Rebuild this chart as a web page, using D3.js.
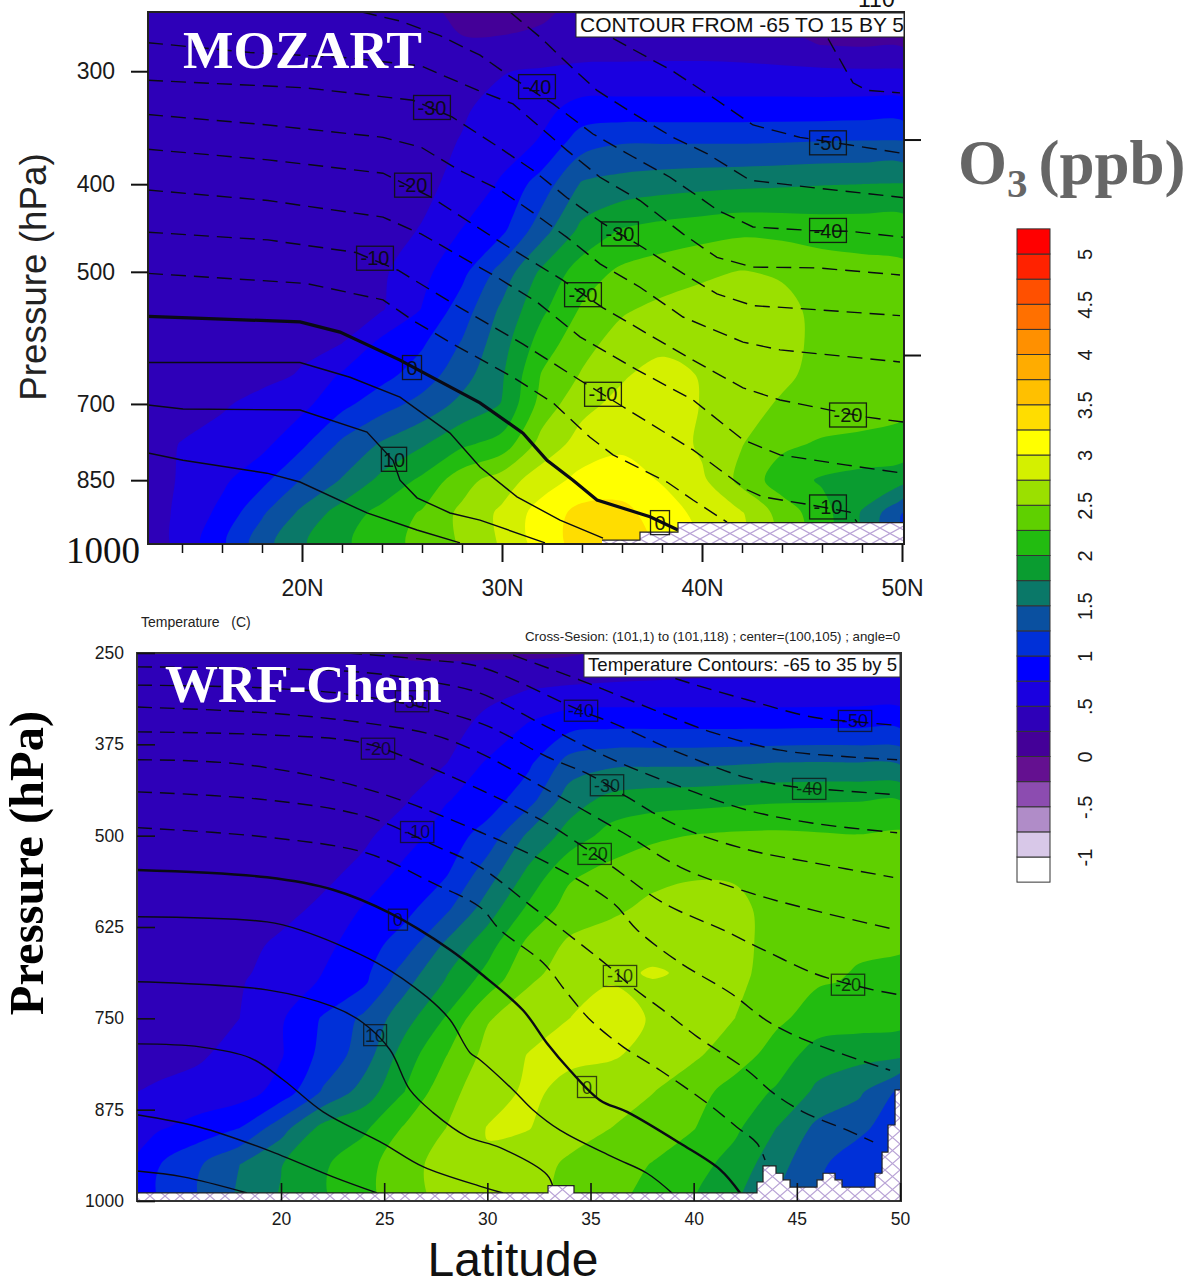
<!DOCTYPE html>
<html lang="en">
<head>
<meta charset="UTF-8">
<title>O3 cross sections, MOZART and WRF-Chem</title>
<script src="https://d3js.org/d3.v7.min.js"></script>
<style>
    html, body { margin: 0; padding: 0; background: #fff; }
    svg { display: block; font-family: "Liberation Sans", Arial, sans-serif; }
    .serif { font-family: "Liberation Serif", "Times New Roman", serif; font-weight: bold; }
    .axis path.domain { display: none; }
    .axis line { stroke: #111; }
</style>
</head>
<body>
<svg id="chart" width="1190" height="1283"></svg>
<script>
// colour levels, ppb
const o3Levels = [-1, -0.75, -0.5, -0.25, 0, 0.25, 0.5, 0.75, 1, 1.25, 1.5, 1.75, 2, 2.25, 2.5, 2.75, 3, 3.25, 3.5, 3.75, 4, 4.25, 4.5, 4.75, 5];
const o3Colors = ["#ffffff", "#d8c8e8", "#b08cc8", "#8c4cb0", "#641090", "#440098", "#2e00b8", "#1a00e0", "#0000ff", "#0030d8", "#0a50a0", "#0a7868", "#0a9c30", "#22bc10", "#5fd000", "#9be000", "#d4f000", "#ffff00", "#ffdd00", "#ffc000", "#ffac00", "#ff9000", "#ff7000", "#ff5000", "#ff2200", "#ff0000"];
const legendTicks = [-1, -0.5, 0, 0.5, 1, 1.5, 2, 2.5, 3, 3.5, 4, 4.5, 5];

// MOZART O3 on lat / pressure nodes
const mozartLats = [12.3, 14, 16, 18, 20, 22, 24, 26, 28, 30, 32, 34, 36, 38, 40, 42, 44, 46, 48, 50];
const mozartLevels = [258, 280, 300, 330, 360, 400, 450, 500, 550, 600, 650, 700, 775, 850, 925, 1000];
const mozartO3 = [
    [.38,.38,.38,.38,.38,.37,.35,.3,.2,.2,.22,.3,.35,.38,.38,.37,.2,.15,.15,.15],
    [.38,.38,.38,.38,.38,.38,.36,.3,.27,.27,.3,.38,.41,.42,.42,.4,.33,.24,.22,.22],
    [.39,.39,.39,.39,.39,.39,.39,.41,.44,.49,.53,.56,.55,.55,.55,.55,.55,.54,.53,.53],
    [.4,.4,.4,.4,.4,.4,.41,.43,.48,.56,.68,.84,.85,.85,.85,.85,.85,.85,.86,.86],
    [.4,.4,.4,.4,.4,.41,.41,.44,.51,.62,.78,1.15,1.24,1.24,1.24,1.24,1.25,1.27,1.28,1.28],
    [.4,.4,.4,.4,.4,.4,.41,.46,.55,.79,1.12,1.53,1.6,1.65,1.68,1.7,1.72,1.74,1.75,1.76],
    [.4,.4,.4,.4,.4,.41,.44,.51,.76,.95,1.4,1.82,2.02,2.1,2.15,2.2,2.18,2.15,2.15,2.15],
    [.4,.4,.4,.4,.4,.42,.46,.68,.93,1.35,1.8,2.12,2.3,2.38,2.46,2.51,2.47,2.38,2.33,2.3],
    [.4,.4,.4,.4,.41,.44,.48,.76,1.12,1.55,1.95,2.28,2.47,2.56,2.6,2.62,2.58,2.42,2.35,2.32],
    [.4,.4,.4,.41,.45,.5,.82,.97,1.27,1.65,2.12,2.42,2.6,2.68,2.7,2.68,2.6,2.42,2.3,2.28],
    [.4,.4,.4,.43,.52,.78,.92,1.12,1.4,1.72,2.27,2.52,2.72,2.85,2.73,2.63,2.55,2.42,2.32,2.28],
    [.4,.4,.47,.58,.68,.93,1.15,1.33,1.57,1.76,2.35,2.68,2.82,2.87,2.74,2.6,2.47,2.4,2.35,2.3],
    [.42,.51,.6,.68,.95,1.3,1.53,1.72,1.95,2.1,2.6,2.85,2.95,2.93,2.7,2.51,2.3,2.22,2.2,2.18],
    [.42,.52,.7,.93,1.27,1.52,1.82,2.05,2.4,2.63,2.88,3.08,3.12,2.98,2.8,2.42,2.12,1.97,1.9,1.83],
    [.38,.56,.82,1.22,1.56,1.87,2.08,2.28,2.56,2.8,3.12,3.33,3.33,3.12,2.93,2.77,2.4,2.1,1.73,1.25],
    [.35,.58,.95,1.4,1.72,1.95,2.15,2.32,2.53,2.78,3.12,3.35,3.35,3.2,3,2.8,2.4,2.1,1.7,1.2]
];

// MOZART isotherms as [lat, hPa]
const mozTemps = [-55, -50, -45, -40, -35, -30, -25, -20, -15, -10, -5, 0, 5, 10, 15];
const mozN55 = [[46.3,276],[47.55,309],[48.25,315],[49.9,317]];
const mozN50 = [[35.55,276],[38.55,300],[40.75,323],[42.55,344],[44.9,355],[47.4,362],[50.1,370]];
const mozN45 = [[30.4,258],[31.9,275],[33.55,298],[34.75,315],[36.55,334],[38.55,355],[40.25,370],[42.4,396],[45.75,404],[50.1,414]];
const mozN40 = [[23,258],[24.9,264],[26.9,274],[28.9,288],[30.4,304],[32.55,326],[34.55,352],[36.55,373],[38.4,393],[39.9,414],[40.75,427],[42.55,446],[45.4,450],[47.4,451],[50.1,458]];
const mozN35 = [[12.3,279],[17.4,286],[22.4,290],[25.95,296],[28.8,315],[30.55,326],[33.25,367],[34.9,393],[36.9,417],[39.05,454],[40.75,482],[42.55,494],[45.75,495],[49.9,504]];
const mozN30 = [[12.3,307],[20.2,313],[25.55,323],[27.5,337],[29.75,363],[31.55,386],[33.25,414],[35.05,442],[37.05,470],[39.05,502],[40.75,529],[42.55,545],[44.9,549],[49.9,559]];
const mozN25 = [[12.3,335],[18.3,344],[24.05,355],[25.95,364],[27.85,386],[29.9,406],[31.55,430],[33.25,458],[34.9,490],[36.9,520],[39.05,561],[42.05,598],[43.9,610],[49.9,629]];
const mozN20 = [[12.3,366],[18.3,376],[24.05,389],[26.5,414],[29.75,461],[33.05,511],[35.05,548],[37.25,585],[39.55,626],[42.05,672],[43.9,693],[46.4,711],[48.25,724],[50.05,733]];
const mozN15 = [[12.3,406],[18.3,417],[24.05,435],[25.95,454],[29.75,507],[31.75,540],[33.9,590],[36.75,642],[39.55,693],[42.05,767],[43.9,797],[47.25,818],[50.05,835]];
const mozN10 = [[12.3,452],[18.3,461],[22.7,476],[24.8,498],[27.85,547],[31.05,601],[33.9,659],[36.05,705],[39.55,787],[42.25,871],[43.05,887],[45.4,905],[47.4,922],[47.75,946]];
const mozN5 = [[12.3,502],[20.2,515],[24.05,537],[25.55,566],[27.55,601],[30.55,654],[32.55,698],[34.4,762],[35.55,797],[38.25,854],[39.55,894],[41.25,946]];
const moz0 = [[12.3,560],[19.9,568],[21.9,583],[24.9,626],[28.9,698],[31.05,754],[32.25,808],[33.55,850],[34.75,894],[37.4,933],[38.8,965]];
const moz5 = [[12.3,630],[19.9,630],[22.4,654],[24.9,688],[27.4,754],[28.9,822],[30.75,887],[32.9,941],[35.05,985]];
const moz10 = [[12.3,702],[14.05,709],[19.9,711],[23.25,752],[24.55,808],[24.9,850],[25.75,889],[27.4,924],[28.9,941],[32.15,997]];
const moz15 = [[12.3,793],[14.05,808],[18.25,835],[19.9,854],[23.25,924],[25.75,965],[27.9,997]];
const mozLines = [mozN55, mozN50, mozN45, mozN40, mozN35, mozN30, mozN25, mozN20, mozN15, mozN10, mozN5, moz0, moz5, moz10, moz15];

// contour labels: text, lat, hPa
const mozLabels = [["-40",31.75,312],["-30",26.5,329],["-20",25.55,401],["-10",23.65,483],["0",25.5,638],["10",24.6,806],["-30",35.9,454],["-20",34.05,530],["-10",35.05,683],["0",37.9,947],["-50",46.3,360],["-40",46.3,450],["-20",47.3,720],["-10",46.3,910]];
const mozTerrainLat = [35, 36.9, 38.8, 50.2];
const mozTerrainP = [990, 970, 947, 947];
const mozPressureTicks = [300, 400, 500, 700, 850];
const mozRightTicks = [357, 618];
const mozLatMajor = [20, 30, 40, 50];
const mozLatMinor = [14, 16, 18, 22, 24, 26, 28, 32, 34, 36, 38, 42, 44, 46, 48];

// WRF-Chem O3 on lat / pressure nodes
const wrfLats = [13.02, 14, 16, 18, 20, 22, 24, 26, 28, 30, 32, 34, 36, 38, 40, 42, 44, 46, 48, 50];
const wrfLevels = [250, 300, 350, 400, 450, 500, 550, 600, 650, 688, 700, 750, 800, 850, 900, 950, 1000];
const wrfO3 = [
    [.38,.38,.38,.38,.38,.38,.3,.22,.2,.2,.2,.22,.3,.35,.38,.38,.38,.38,.38,.38],
    [.38,.38,.38,.38,.38,.38,.38,.39,.42,.47,.5,.54,.55,.55,.55,.55,.55,.55,.56,.56],
    [.38,.38,.38,.38,.38,.38,.38,.42,.46,.53,.78,.93,.96,.96,.96,.96,.96,.97,.97,.97],
    [.38,.38,.38,.38,.38,.38,.38,.42,.49,.78,.95,1.35,1.44,1.45,1.45,1.47,1.5,1.51,1.5,1.47],
    [.38,.38,.38,.38,.38,.38,.42,.47,.73,.87,1.15,1.63,1.82,1.88,1.9,1.93,1.96,1.97,1.98,1.99],
    [.38,.38,.38,.38,.38,.4,.45,.64,.87,1.1,1.55,1.85,2.1,2.2,2.26,2.29,2.3,2.28,2.26,2.3],
    [.38,.38,.38,.38,.38,.43,.57,.82,.97,1.37,1.8,2.2,2.32,2.42,2.47,2.47,2.38,2.33,2.3,2.3],
    [.38,.38,.38,.38,.42,.55,.77,.92,1.2,1.62,2.05,2.36,2.45,2.56,2.6,2.56,2.42,2.34,2.3,2.29],
    [.38,.38,.38,.42,.55,.68,.88,1.13,1.55,1.9,2.32,2.55,2.63,2.68,2.65,2.57,2.42,2.3,2.27,2.26],
    [.38,.38,.4,.46,.6,.75,.93,1.36,1.73,2.06,2.44,2.6,2.7,2.77,2.72,2.56,2.41,2.28,2.24,2.23],
    [.38,.38,.4,.48,.62,.77,.95,1.42,1.77,2.12,2.48,2.62,2.74,2.74,2.66,2.55,2.4,2.27,2.23,2.22],
    [.38,.4,.43,.5,.72,1.02,1.3,1.65,2.02,2.48,2.62,2.75,2.85,2.73,2.62,2.5,2.3,2.15,2.12,2.1],
    [.4,.42,.47,.58,.73,1.07,1.37,1.87,2.24,2.58,2.76,2.8,2.78,2.67,2.54,2.37,2.15,1.88,1.83,1.8],
    [.5,.53,.58,.63,.84,1.27,1.6,2,2.43,2.62,2.8,2.68,2.6,2.51,2.35,2.15,1.97,1.7,1.55,1.2],
    [.68,.72,.85,1,1.4,1.82,1.95,2.28,2.5,2.76,2.76,2.6,2.5,2.37,2.26,2.05,1.75,1.44,1.31,1.1],
    [.78,.98,1.22,1.5,1.74,1.96,2.17,2.39,2.62,2.73,2.6,2.46,2.35,2.24,2.1,1.9,1.6,1.3,1.1,1.05],
    [.8,.99,1.24,1.54,1.77,1.96,2.17,2.38,2.58,2.68,2.58,2.4,2.31,2.15,2,1.78,1.5,1.25,1.1,1.05]
];

// WRF-Chem isotherms as [lat, hPa]
const wrfTemps = [-50, -45, -40, -35, -30, -25, -20, -15, -10, -5, 0, 5, 10, 15, 20, 25];
const wrfN50 = [[35.95,253],[39.34,287],[42.59,314],[45.79,338],[47.82,344],[49.86,349]];
const wrfN45 = [[31.25,253],[34.49,287],[37.74,324],[40.94,359],[44.19,383],[47.44,392],[49.86,396]];
const wrfN40 = [[23.2,250],[27.37,260],[29.65,269],[34.54,329],[36.09,346],[39.34,387],[42.59,421],[44.82,433],[46.47,437],[49.86,444]];
const wrfN35 = [[13.02,269],[19.32,271],[24.17,277],[27.37,290],[29.65,305],[32.89,351],[36.09,396],[39.34,433],[42.59,465],[45.79,483],[49.86,496]];
const wrfN30 = [[13.02,294],[19.32,298],[24.17,310],[29.65,346],[32.89,392],[34.98,417],[36.77,447],[39.34,488],[42.59,519],[45.79,537],[49.67,557]];
const wrfN25 = [[13.02,324],[19.32,332],[24.17,346],[27.37,362],[29.65,387],[32.89,437],[36.58,496],[39.34,543],[42.59,577],[45.79,602],[49.86,629]];
const wrfN20 = [[13.02,358],[19.32,362],[23.97,373],[26.74,401],[29.65,437],[32.89,483],[34.64,515],[36.09,543],[38.52,592],[41.42,629],[43.36,656],[45.79,688],[46.76,697],[48.7,711],[50,718]];
const wrfN15 = [[13.02,396],[17.67,401],[22.52,424],[25.77,451],[29.65,495],[32.89,537],[36.09,592],[37.26,629],[39.34,674],[41.76,715],[43.7,756],[45.79,784],[49.52,821]];
const wrfN10 = [[13.02,440],[19.32,451],[24.17,474],[27.56,515],[29.65,543],[32.07,595],[35.8,677],[37.06,708],[38.71,743],[40.16,775],[42.59,821],[43.85,852],[45.3,878],[47.44,903],[48.7,919]];
const wrfN5 = [[13.02,489],[19.32,502],[24.17,524],[27.37,565],[29.65,598],[30.62,629],[32.7,674],[33.86,715],[34.98,752],[36.58,789],[38.37,821],[40.65,866],[42.1,899],[43.07,921],[43.46,944]];
const wrf0 = [[13.02,547],[19.32,557],[22.52,574],[25.28,606],[28.19,656],[29.65,688],[31.73,739],[32.89,784],[34,821],[35.46,862],[36.77,878],[39.34,921],[41.28,957],[42.25,989]];
const wrf5 = [[13.02,611],[19.32,618],[20.92,629],[24.65,674],[27.08,721],[28.19,752],[29.16,797],[29.65,807],[31.25,848],[32.2,875],[33.52,903],[36.09,940],[37.74,962],[38.95,989]];
const wrf10 = [[13.02,700],[19.32,711],[22.52,734],[23.97,756],[25.28,793],[26.25,848],[27.37,879],[29.02,912],[30.62,927],[32.89,964],[33.18,981]];
const wrf15 = [[13.02,785],[16.07,789],[18.5,804],[20.1,834],[22.04,878],[24.94,921],[26.88,953],[29.79,981],[30.76,989]];
const wrf20 = [[13.02,882],[16.07,899],[19.32,930],[22.52,967],[24.65,989]];
const wrf25 = [[13.02,959],[15.25,967],[18.35,989]];
const wrfLines = [wrfN50, wrfN45, wrfN40, wrfN35, wrfN30, wrfN25, wrfN20, wrfN15, wrfN10, wrfN5, wrf0, wrf5, wrf10, wrf15, wrf20, wrf25];

const wrfLabelsList = [["-30",26.35,316],["-40",34.54,329],["-50",47.82,343],["-20",24.7,381],["-30",35.8,431],["-40",45.6,436],["-10",26.6,495],["-20",35.2,525],["0",25.67,615],["-10",36.43,692],["-20",47.48,704],["10",24.56,773],["0",34.83,844]];
const wrfTerrainLat = [13.02, 32.94, 34.2, 43.07, 43.36, 43.99, 44.33, 44.67, 45.98, 46.27, 46.85, 47.19, 48.79, 49.13, 49.42, 49.76, 50.1];
const wrfTerrainP = [989, 979, 989, 974, 952, 962, 971, 981, 971, 962, 971, 981, 962, 933, 896, 848, 848];
const wrfPressureTicks = [250, 375, 500, 625, 750, 875, 1000];
const wrfLatTicks = [20, 25, 30, 35, 40, 45, 50];

const svg = d3.select("#chart");
const defs = svg.append("defs");

// hatching for the terrain
function addHatch(id, w, h) {
    const p = defs.append("pattern").attr("id", id)
        .attr("patternUnits", "userSpaceOnUse")
        .attr("width", w).attr("height", h);
    p.append("rect").attr("width", w).attr("height", h).attr("fill", "#fff");
    p.append("path").attr("d", `M0,0L${w},${h}M0,${h}L${w},0`)
        .attr("stroke", "#b9a3d6").attr("stroke-width", 1.2).attr("fill", "none");
}
addHatch("hatch-moz", 20, 11);
addHatch("hatch-wrf", 15, 13);

function drawField(g, values, lats, levels, x, y) {
    const nx = lats.length, ny = levels.length;
    const latAt = d3.scaleLinear().domain(d3.range(nx)).range(lats);
    const levelAt = d3.scaleLinear().domain(d3.range(ny)).range(levels);
    // contour grid cell centres sit at +0.5
    const toPixel = p => [x(latAt(p[0] - 0.5)), y(Math.max(levelAt(p[1] - 0.5), 100))];
    const ringPath = d3.line().curve(d3.curveCatmullRomClosed.alpha(0.5));
    const bandPath = d => d.coordinates
        .map(poly => poly.map(ring => ringPath(ring.slice(0, -1).map(toPixel))).join(""))
        .join("");
    const bands = d3.contours().size([nx, ny]).thresholds(o3Levels)(values.flat());
    g.selectAll("path.band").data(bands).enter().append("path")
        .attr("class", "band")
        .attr("d", bandPath)
        .attr("fill-rule", "evenodd")
        .attr("fill", d => o3Colors[o3Levels.indexOf(d.value) + 1]);
}

function drawLines(g, temps, lines, x, y, curve, thick) {
    const line = d3.line().x(d => x(d[0])).y(d => y(d[1])).curve(curve);
    g.selectAll("path.iso").data(lines).enter().append("path")
        .attr("class", "iso")
        .attr("d", line)
        .attr("fill", "none")
        .attr("stroke", "#0a0a14")
        .attr("stroke-width", (d, i) => temps[i] === 0 ? thick : 1.4)
        .attr("stroke-dasharray", (d, i) => temps[i] < 0 ? "15,8" : null);
}

function drawTerrain(g, lats, tops, x, y, bottom, hatch) {
    const rows = lats.map((d, i) => [d, tops[i]]);
    g.append("path").datum(rows)
        .attr("d", d3.area().x(d => x(d[0])).y0(bottom).y1(d => y(d[1])).curve(d3.curveStepAfter))
        .attr("fill", `url(#${hatch})`);
    g.append("path").datum(rows)
        .attr("d", d3.line().x(d => x(d[0])).y(d => y(d[1])).curve(d3.curveStepAfter))
        .attr("fill", "none").attr("stroke", "#222").attr("stroke-width", 1.2);
}

function drawLabels(g, labels, x, y, fontSize, boxH, opacity) {
    const boxW = d => Math.max(d[0].length * fontSize * 0.58 + 2, 19);
    const item = g.selectAll("g.lab").data(labels).enter().append("g")
        .attr("class", "lab")
        .attr("transform", d => `translate(${x(d[1])},${y(d[2])})`)
        .attr("opacity", opacity);
    item.append("rect")
        .attr("x", d => -boxW(d) / 2)
        .attr("y", -boxH / 2)
        .attr("width", boxW)
        .attr("height", boxH)
        .attr("fill", "none").attr("stroke", "#111").attr("stroke-width", 1.3);
    item.append("text")
        .attr("text-anchor", "middle").attr("dy", "0.36em")
        .attr("font-size", fontSize).attr("fill", "#0a0a0a")
        .text(d => d[0]);
}

function styleAxis(sel, fontSize) {
    sel.attr("class", "axis");
    sel.selectAll("text").attr("font-size", fontSize).attr("fill", "#1a1a1a").attr("font-family", "Liberation Sans");
}

// ---- MOZART panel ----
const mozX = d3.scaleLinear().domain([12.3, 50.05]).range([148, 903]);
const mozY = d3.scaleLog().domain([258, 1000]).range([12, 544]);
svg.append("clipPath").attr("id", "clip-moz").append("rect")
    .attr("x", 148).attr("y", 12).attr("width", 756).attr("height", 532);
const mozG = svg.append("g").attr("clip-path", "url(#clip-moz)");
drawField(mozG.append("g"), mozartO3, mozartLats, mozartLevels, mozX, mozY);
drawLines(mozG.append("g"), mozTemps, mozLines, mozX, mozY, d3.curveLinear, 3.2);
drawTerrain(mozG.append("g"), mozTerrainLat, mozTerrainP, mozX, mozY, 544, "hatch-moz");
drawLabels(svg.append("g"), mozLabels, mozX, mozY, 20, 24, 0.9);

svg.append("rect").attr("x", 148).attr("y", 12).attr("width", 756).attr("height", 532)
    .attr("fill", "none").attr("stroke", "#222").attr("stroke-width", 2);

svg.append("g").attr("transform", "translate(148,0)")
    .call(d3.axisLeft(mozY).tickValues(mozPressureTicks).tickFormat(d => d).tickSizeOuter(0).tickSizeInner(17).tickPadding(16))
    .call(styleAxis, 23)
    .selectAll("line").attr("stroke-width", 2);
svg.append("g").attr("transform", "translate(904,0)")
    .call(d3.axisRight(mozY).tickValues(mozRightTicks).tickFormat("").tickSizeOuter(0).tickSizeInner(17))
    .call(styleAxis, 10)
    .selectAll("line").attr("stroke-width", 2);
svg.append("g").attr("transform", "translate(0,544)")
    .call(d3.axisBottom(mozX).tickValues(mozLatMajor).tickFormat(d => d + "N").tickSizeOuter(0).tickSizeInner(18).tickPadding(18))
    .call(styleAxis, 23)
    .selectAll("line").attr("stroke-width", 2);
svg.append("g").attr("transform", "translate(0,544)")
    .call(d3.axisBottom(mozX).tickValues(mozLatMinor).tickFormat("").tickSizeOuter(0).tickSizeInner(9))
    .call(styleAxis, 10)
    .selectAll("line").attr("stroke-width", 1.5);

svg.append("text").attr("x", 140).attr("y", 563)
    .attr("text-anchor", "end").attr("font-size", 37).attr("font-family", "Liberation Serif").attr("fill", "#111")
    .text("1000");

svg.append("rect").attr("x", 576).attr("y", 13).attr("width", 328).attr("height", 24)
    .attr("fill", "#fff").attr("stroke", "#222").attr("stroke-width", 1);
svg.append("text").attr("x", 580).attr("y", 32).attr("font-size", 21).attr("fill", "#111")
    .text("CONTOUR FROM -65 TO 15 BY 5");
svg.append("text").attr("x", 858).attr("y", 7).attr("font-size", 23).attr("fill", "#111").text("110");
svg.append("text").attr("class", "serif").attr("x", 183).attr("y", 68)
    .attr("font-size", 53.5).attr("fill", "#fff").text("MOZART");
svg.append("text").attr("transform", "translate(46,277) rotate(-90)")
    .attr("text-anchor", "middle").attr("font-size", 36.8).attr("fill", "#222").text("Pressure (hPa)");

// ---- WRF-Chem panel ----
const wrfX = d3.scaleLinear().domain([13.02, 50]).range([137, 900]);
const wrfY = d3.scaleLinear().domain([250, 1000]).range([653, 1201]);
svg.append("clipPath").attr("id", "clip-wrf").append("rect")
    .attr("x", 137).attr("y", 653).attr("width", 764).attr("height", 548);
const wrfG = svg.append("g").attr("clip-path", "url(#clip-wrf)");
drawField(wrfG.append("g"), wrfO3, wrfLats, wrfLevels, wrfX, wrfY);
drawLines(wrfG.append("g"), wrfTemps, wrfLines, wrfX, wrfY, d3.curveCatmullRom.alpha(0.5), 2.4);
drawTerrain(wrfG.append("g"), wrfTerrainLat, wrfTerrainP, wrfX, wrfY, 1201, "hatch-wrf");
drawLabels(svg.append("g"), wrfLabelsList, wrfX, wrfY, 18, 21, 0.75);

svg.append("rect").attr("x", 137).attr("y", 653).attr("width", 764).attr("height", 548)
    .attr("fill", "none").attr("stroke", "#333").attr("stroke-width", 2);

svg.append("g").attr("transform", "translate(137,0)")
    .call(d3.axisLeft(wrfY).tickValues(wrfPressureTicks).tickFormat(d => d).tickSizeOuter(0).tickSizeInner(-18).tickPadding(13))
    .call(styleAxis, 17.5)
    .selectAll("line").attr("stroke-width", 1.6);
svg.append("g").attr("transform", "translate(0,1201)")
    .call(d3.axisBottom(wrfX).tickValues(wrfLatTicks).tickFormat(d => d).tickSizeOuter(0).tickSizeInner(-18).tickPadding(12))
    .call(styleAxis, 17.5)
    .selectAll("line").attr("stroke-width", 1.6);

svg.append("text").attr("x", 141).attr("y", 627).attr("font-size", 14).attr("fill", "#222")
    .style("white-space", "pre").text("Temperature   (C)");
svg.append("text").attr("x", 525).attr("y", 641).attr("font-size", 13.3).attr("fill", "#222")
    .text("Cross-Sesion: (101,1) to (101,118) ; center=(100,105) ; angle=0");
svg.append("rect").attr("x", 584).attr("y", 654).attr("width", 316).attr("height", 23)
    .attr("fill", "#fff").attr("stroke", "#333").attr("stroke-width", 1);
svg.append("text").attr("x", 588).attr("y", 671).attr("font-size", 18.6).attr("fill", "#111")
    .text("Temperature Contours: -65 to 35 by 5");
svg.append("text").attr("class", "serif").attr("x", 165).attr("y", 702)
    .attr("font-size", 53).attr("fill", "#fff").text("WRF-Chem");
svg.append("text").attr("class", "serif").attr("transform", "translate(43,863) rotate(-90)")
    .attr("text-anchor", "middle").attr("font-size", 48.6).attr("fill", "#000").text("Pressure (hPa)");
svg.append("text").attr("x", 513).attr("y", 1276).attr("text-anchor", "middle")
    .attr("font-size", 48).attr("fill", "#111").text("Latitude");

// ---- colour bar ----
const barY = d3.scaleLinear().domain([-1, 5]).range([857, 254]);
const boxH = barY(-1) - barY(-0.75);
const bar = svg.append("g");
bar.selectAll("rect").data(o3Colors).enter().append("rect")
    .attr("x", 1017)
    .attr("y", (d, i) => barY(-1) - i * boxH)
    .attr("width", 33)
    .attr("height", boxH)
    .attr("fill", d => d)
    .attr("stroke", "#333").attr("stroke-width", 1);
svg.append("g").attr("transform", "translate(1050,0)")
    .call(d3.axisRight(barY).tickValues(legendTicks).tickFormat(d => String(d).replace("0.", ".")).tickSize(0).tickPadding(0))
    .call(styleAxis, 20)
    .selectAll("text")
    .attr("transform", "translate(35,0) rotate(-90)")
    .attr("x", 0).attr("y", 0).attr("dy", "0.36em").attr("text-anchor", "middle");

const o3Title = svg.append("text").attr("class", "serif").attr("x", 958).attr("y", 184)
    .attr("font-size", 63).attr("fill", "#666");
o3Title.append("tspan").text("O");
o3Title.append("tspan").attr("font-size", 41).attr("dy", 13).text("3");
o3Title.append("tspan").attr("dy", -13).attr("dx", 11).text("(ppb)");
</script>
</body>
</html>
